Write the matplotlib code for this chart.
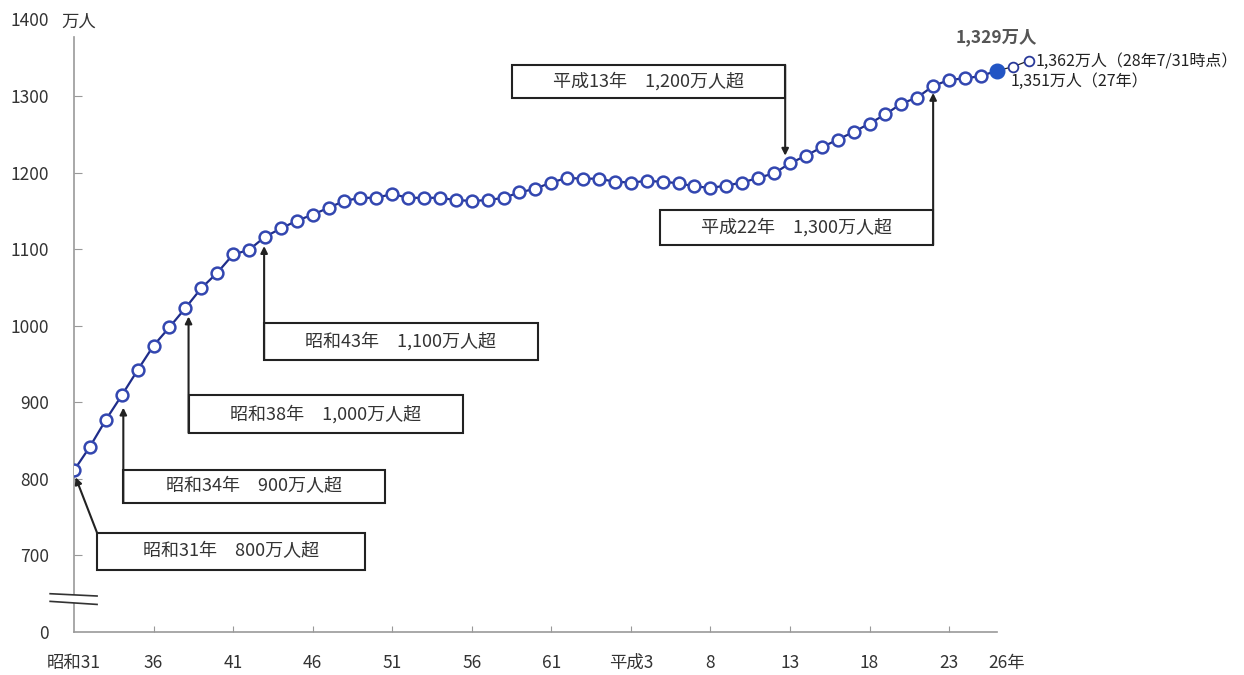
import matplotlib
matplotlib.use("Agg")
import matplotlib.pyplot as plt
from matplotlib.patches import Rectangle, Polygon

plt.rcParams['font.family'] = ['Noto Sans CJK JP', 'DejaVu Sans']

# 東京都の人口（万人）
years = list(range(1956, 2015))
pop = [811, 842, 877, 909, 942, 974, 998, 1023, 1049, 1069,
       1093, 1099, 1116, 1127, 1137, 1145, 1154, 1163, 1167, 1167,
       1172, 1167, 1167, 1167, 1164, 1163, 1164, 1167, 1174, 1179,
       1187, 1193, 1192, 1192, 1188, 1187, 1189, 1188, 1186, 1182,
       1180, 1183, 1187, 1193, 1199, 1212, 1222, 1233, 1243, 1253,
       1264, 1276, 1290, 1298, 1313, 1321, 1323, 1326, 1333]
extra_years = [2015, 2016]
extra_pop = [1338, 1346]

xtick_pos = [1956, 1961, 1966, 1971, 1976, 1981, 1986, 1991, 1996, 2001, 2006, 2011, 2014.6]
xtick_lab = ['昭和31', '36', '41', '46', '51', '56', '61', '平成3', '8', '13', '18', '23', '26年']
ytick_pos = [600, 700, 800, 900, 1000, 1100, 1200, 1300, 1400]
ytick_lab = ['0', '700', '800', '900', '1000', '1100', '1200', '1300', '1400']

# (テキスト, 箱 x0, x1, y0, y1, 矢印の始点, 矢印の先)
notes = [
    ('昭和31年\u3000800万人超', 1957.45, 1974.3, 681, 729.5, (1957.45, 729.5), (1956.1, 802)),
    ('昭和34年\u3000900万人超', 1959.1, 1975.55, 768.7, 811.7, (1959.1, 768.7), (1959.1, 893)),
    ('昭和38年\u30001,000万人超', 1963.2, 1980.45, 860, 909.7, (1963.2, 860), (1963.2, 1012)),
    ('昭和43年\u30001,100万人超', 1967.95, 1985.15, 955.4, 1003.7, (1967.95, 955.4), (1967.95, 1104)),
    ('平成13年\u30001,200万人超', 1983.55, 2000.7, 1297.4, 1340.5, (2000.7, 1340.5), (2000.7, 1222)),
    ('平成22年\u30001,300万人超', 1992.85, 2010.0, 1105.5, 1151, (2010.0, 1105.5), (2010.0, 1304)),
]

fig = plt.figure(figsize=(12.44, 6.75), dpi=100)
ax = fig.add_axes([74 / 1244, 43 / 675, 1170 / 1244, 612.6 / 675])
ax.set_xlim(1956, 1956 + 1170 / 15.91)
ax.set_ylim(600, 1400)

ax.plot(years, pop, '-', color='#1f2d8a', lw=1.6, zorder=4)
ax.plot(years[:-1], pop[:-1], 'o', ms=8.5, mfc='white', mec='#3347b0', mew=1.8, zorder=5)
ax.plot([years[-1]] + extra_years, [pop[-1]] + extra_pop, '-', color='#222', lw=0.9, zorder=4)
ax.plot(extra_years, extra_pop, 'o', ms=7, mfc='white', mec='#2a3a9a', mew=1.3, zorder=5)
ax.plot(years[-1], pop[-1], 'o', ms=10.5, color='#2255c4', zorder=6)

for s in ['top', 'right']:
    ax.spines[s].set_visible(False)
for s in ['left', 'bottom']:
    ax.spines[s].set_color('#999999')
    ax.spines[s].set_linewidth(1.2)
ax.spines['left'].set_bounds(600, 1377)
ax.spines['bottom'].set_bounds(1956, 2014)

ax.set_xticks(xtick_pos)
ax.set_xticklabels(xtick_lab, fontsize=12.5, color='#333333')
ax.set_yticks(ytick_pos)
ax.set_yticklabels(ytick_lab, fontsize=12.5, color='#333333')
ax.tick_params(axis='x', direction='in', length=4, color='#999999', pad=16)
ax.tick_params(axis='y', direction='in', length=6, color='#999999', pad=18)
ax.xaxis.get_major_ticks()[-1].tick1line.set_visible(False)
ax.xaxis.get_major_ticks()[0].tick1line.set_visible(False)
ax.yaxis.get_major_ticks()[0].tick1line.set_visible(False)
ax.yaxis.get_major_ticks()[-1].tick1line.set_visible(False)

ax.text(1955.2, 1397, '万人', fontsize=12.5, color='#333333', ha='left', va='center')

# 軸の省略記号
ax.add_patch(Polygon([(1954.5, 650), (1957.45, 647), (1957.45, 636), (1954.5, 640)],
                     closed=True, facecolor='white', edgecolor='none', clip_on=False, zorder=6))
ax.plot([1954.5, 1957.45], [650, 647], color='#333333', lw=1.2, clip_on=False, zorder=7)
ax.plot([1954.5, 1957.45], [640, 636], color='#333333', lw=1.2, clip_on=False, zorder=7)

for text, x0, x1, y0, y1, start, tip in notes:
    ax.add_patch(Rectangle((x0, y0), x1 - x0, y1 - y0, facecolor='white',
                           edgecolor='#222222', lw=1.5, zorder=3))
    ax.text((x0 + x1) / 2, (y0 + y1) / 2, text, fontsize=13, color='#333333',
            ha='center', va='center', zorder=4)
    ax.annotate('', xy=tip, xytext=start,
                arrowprops=dict(arrowstyle='-|>', color='#222222', lw=1.5,
                                mutation_scale=10, shrinkA=0, shrinkB=0), zorder=4)

ax.text(2014.0, 1377, '1,329万人', fontsize=12.5, color='#555555', fontweight='bold',
        ha='center', va='center')
ax.text(2016.45, 1345, '1,362万人（28年7/31時点）', fontsize=11.5, color='#222222',
        ha='left', va='center')
ax.text(2014.85, 1318.5, '1,351万人（27年）', fontsize=11.5, color='#222222',
        ha='left', va='center')

fig.savefig('out.png', dpi=100, facecolor='white')
